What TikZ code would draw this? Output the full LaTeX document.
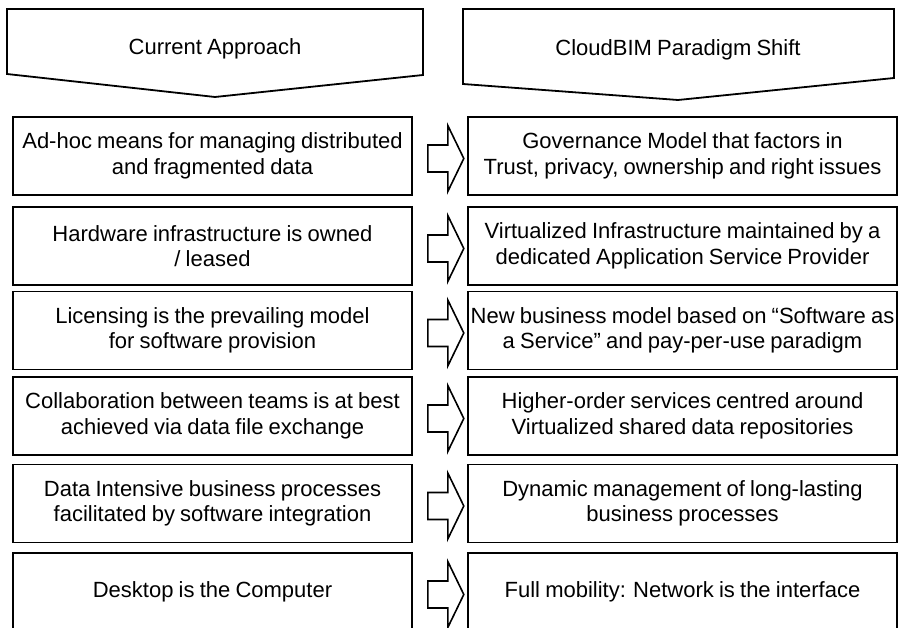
\documentclass[tikz,border=0pt]{standalone}
\usepackage{fontspec}
\setmainfont{Liberation Sans}[WordSpace=0.85]
\begin{document}
\begin{tikzpicture}[x=1pt,y=-1pt,
  every node/.style={font=\fontsize{22}{25.5}\selectfont, align=center, inner sep=0pt},
  cell/.style={draw, line width=1.6pt, minimum height=78pt},
  lcell/.style={cell, minimum width=399pt},
  rcell/.style={cell, minimum width=429pt},
  hdr/.style={draw, line width=1.8pt, line join=miter},
  blockarrow/.style={draw, line width=1.6pt, line join=miter}]
\useasboundingbox (0,0) rectangle (900,628);
\clip (0,0) rectangle (900,628);
% headers
\draw[hdr] (7,9) -- (423,9) -- (423,75) -- (215,97) -- (7,74) -- cycle;
\node (hdrL) at (215,49) {Current Approach};
\draw[hdr] (463,9) -- (894,9) -- (894,78) -- (678,100) -- (463,84) -- cycle;
\node (hdrR) at (678,50) {CloudBIM Paradigm Shift};
% rows
\node[lcell] (L1) at (212.5,156) {Ad-hoc means for managing distributed\\and fragmented data};
\node[rcell] (R1) at (682.5,156) {Governance Model that factors in\\Trust, privacy, ownership and right issues};
\node[lcell] (L2) at (212.5,246) {Hardware infrastructure is owned\\/ leased};
\node[rcell] (R2) at (682.5,246) {Virtualized Infrastructure maintained by a\\dedicated Application Service Provider};
\node[lcell] (L3) at (212.5,330.5) {Licensing is the prevailing model\\for software provision};
\node[rcell] (R3) at (682.5,330.5) {New business model based on “Software as\\a Service” and pay-per-use paradigm};
\node[lcell] (L4) at (212.5,416) {Collaboration between teams is at best\\achieved via data file exchange};
\node[rcell] (R4) at (682.5,416) {Higher-order services centred around\\Virtualized shared data repositories};
\node[lcell] (L5) at (212.5,503.5) {Data Intensive business processes\\facilitated by software integration};
\node[rcell] (R5) at (682.5,503.5) {Dynamic management of long-lasting\\business processes};
\node[lcell] (L6) at (212.5,592) {Desktop is the Computer};
\node[rcell] (R6) at (682.5,592) {Full mobility: Network is the interface};
% block arrows
\foreach \i in {1,...,6} {
  \draw[blockarrow] ([shift={(15,-11)}]L\i.east) -- ++(20,0) -- ++(0,-19.5) -- ++(16,33) -- ++(-16,33) -- ++(0,-19.5) -- ++(-20,0) -- cycle;
}
\end{tikzpicture}
\end{document}
